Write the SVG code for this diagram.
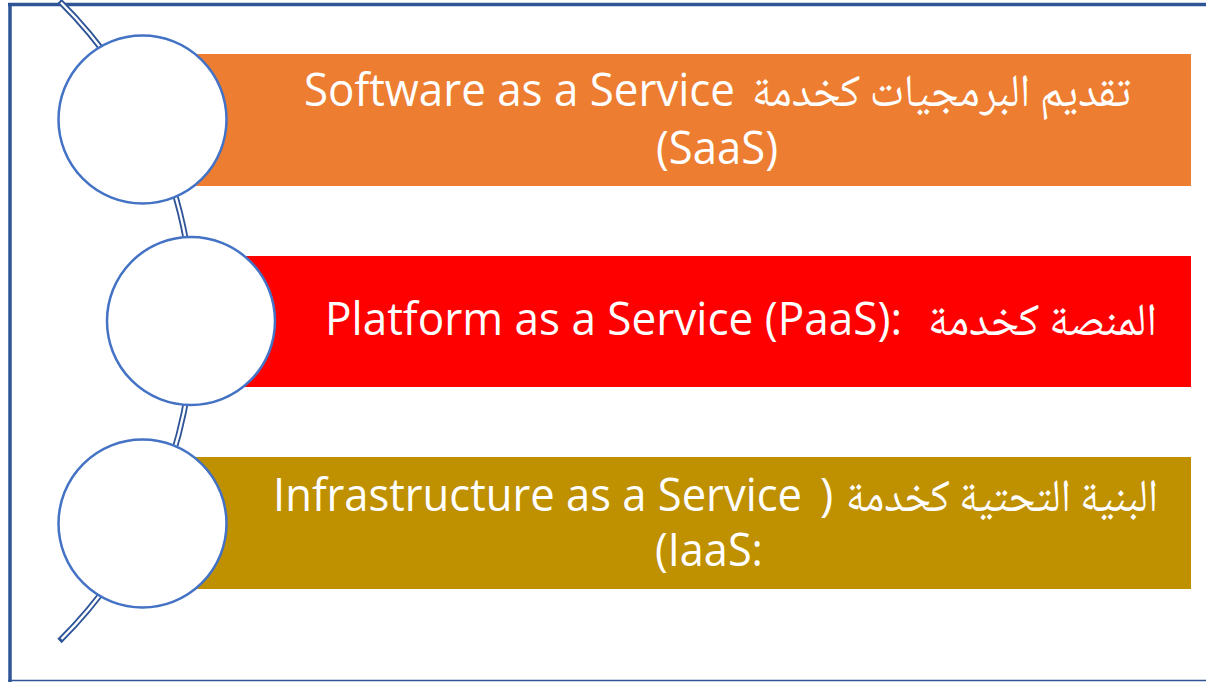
<svg xmlns="http://www.w3.org/2000/svg" width="1206" height="682" viewBox="0 0 1206 682">
<style>
.bar{stroke:none}
.circ{fill:#FFFFFF;stroke:#4472C4;stroke-width:2.5}
.lat{font-family:"Open Sans","Liberation Sans",sans-serif;font-size:45px;fill:#FFFFFF}
.ar{font-family:"Noto Naskh Arabic","DejaVu Sans",sans-serif;font-size:46px;fill:#FFFFFF}
.frame{fill:none;stroke:#2F5597}
</style>
<rect x="0" y="0" width="1206" height="682" fill="#FFFFFF"/>
<g id="frame">
<line class="frame" x1="8" y1="4.5" x2="1206" y2="4.5" stroke-width="3.5"/>
<line class="frame" x1="10" y1="3" x2="10" y2="682" stroke-width="3.5"/>
<line class="frame" x1="8" y1="680.5" x2="1206" y2="680.5" stroke-width="1.5"/>
</g>
<g id="connectors">
<path d="M 59.5 1 A 450 450 0 0 1 59.5 641" fill="none" stroke="#2F5597" stroke-width="6"/>
<path d="M 59.5 1 A 450 450 0 0 1 59.5 641" fill="none" stroke="#FFFFFF" stroke-width="2.4" pathLength="1000" stroke-dasharray="0 3 993 10"/>
</g>
<g id="saas">
<rect class="bar" x="142" y="54" width="1049" height="132" fill="#ED7D31"/>
<circle class="circ" cx="142.5" cy="119.5" r="84"/>
<text class="lat" x="304" y="106" textLength="431" lengthAdjust="spacingAndGlyphs">Software as a Service</text>
<text class="ar" x="1131" y="106" direction="rtl" textLength="379" lengthAdjust="spacingAndGlyphs">تقديم البرمجيات كخدمة</text>
<text class="lat" x="656" y="164" textLength="122" lengthAdjust="spacingAndGlyphs">(SaaS)</text>
</g>
<g id="paas">
<rect class="bar" x="191" y="256" width="1000" height="131" fill="#FF0000"/>
<circle class="circ" cx="191" cy="321" r="84"/>
<text class="lat" x="325" y="335" textLength="577" lengthAdjust="spacingAndGlyphs">Platform as a Service (PaaS):</text>
<text class="ar" x="1157" y="335" direction="rtl" textLength="229" lengthAdjust="spacingAndGlyphs">المنصة كخدمة</text>
</g>
<g id="iaas">
<rect class="bar" x="142" y="457" width="1049" height="132" fill="#BF9000"/>
<circle class="circ" cx="142.5" cy="523.5" r="84"/>
<text class="lat" x="273" y="511" textLength="529" lengthAdjust="spacingAndGlyphs">Infrastructure as a Service</text>
<text class="lat" x="820" y="511">)</text>
<text class="ar" x="1158" y="511" direction="rtl" textLength="312" lengthAdjust="spacingAndGlyphs">البنية التحتية كخدمة</text>
<text class="lat" x="655" y="566" textLength="108" lengthAdjust="spacingAndGlyphs">(IaaS:</text>
</g>
</svg>
